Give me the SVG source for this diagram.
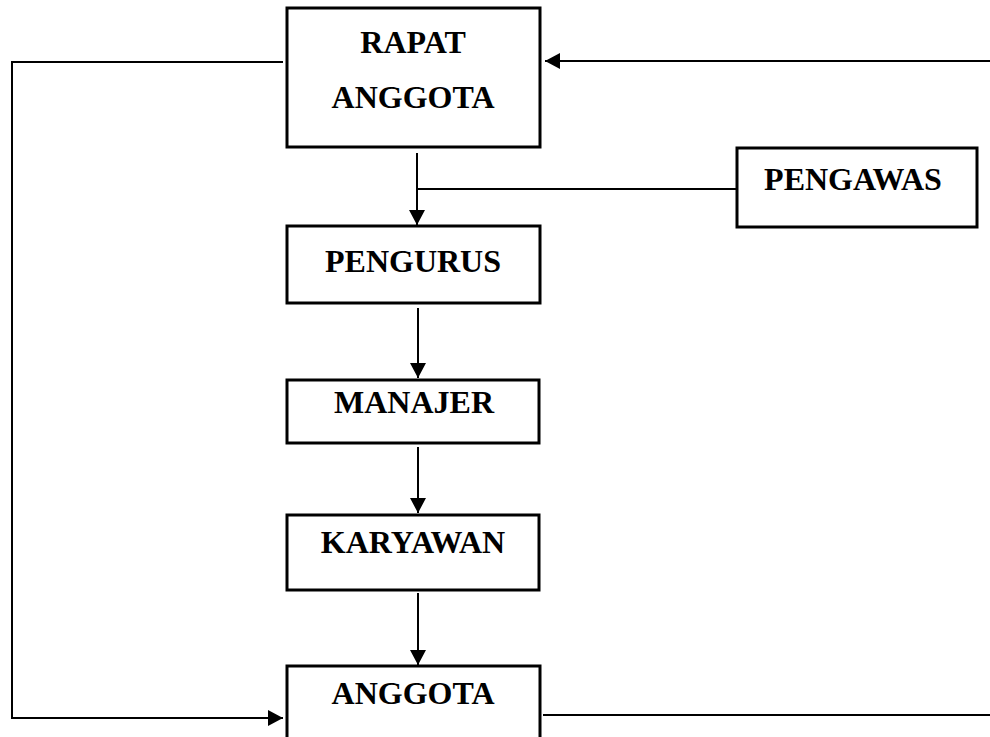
<svg xmlns="http://www.w3.org/2000/svg" width="990" height="737" viewBox="0 0 990 737">
<style>
.box{fill:#fff;stroke:#000;stroke-width:3}
.lbl{font-family:"Liberation Serif","Times New Roman",serif;font-weight:bold;font-size:32px;fill:#000;text-anchor:middle}
.ln{fill:none;stroke:#000;stroke-width:2}
</style>
<defs>
<marker id="ah" markerUnits="userSpaceOnUse" markerWidth="16" markerHeight="16" refX="15" refY="8" orient="auto">
<path d="M0,0 L15,8 L0,16 Z" fill="#000"/>
</marker>
</defs>
<g id="connectors">
<line class="ln" x1="990" y1="61" x2="545" y2="61" marker-end="url(#ah)"/>
<polyline class="ln" points="283,62 12,62 12,718 283,718" marker-end="url(#ah)"/>
<line class="ln" x1="417" y1="153" x2="417" y2="225" marker-end="url(#ah)"/>
<line class="ln" x1="417" y1="189" x2="737" y2="189"/>
<line class="ln" x1="418" y1="308" x2="418" y2="378" marker-end="url(#ah)"/>
<line class="ln" x1="418" y1="447" x2="418" y2="513" marker-end="url(#ah)"/>
<line class="ln" x1="418" y1="593" x2="418" y2="665" marker-end="url(#ah)"/>
<line class="ln" x1="543" y1="715" x2="990" y2="715"/>
</g>
<g id="rapat">
<rect class="box" x="287" y="8" width="253" height="139"/>
<text class="lbl" x="413" y="53">RAPAT</text>
<text class="lbl" x="413" y="108">ANGGOTA</text>
</g>
<g id="pengawas">
<rect class="box" x="737" y="148" width="240" height="79"/>
<text class="lbl" x="853" y="190">PENGAWAS</text>
</g>
<g id="pengurus">
<rect class="box" x="287" y="226" width="253" height="77"/>
<text class="lbl" x="413" y="272">PENGURUS</text>
</g>
<g id="manajer">
<rect class="box" x="287" y="380" width="252" height="63"/>
<text class="lbl" x="414" y="413">MANAJER</text>
</g>
<g id="karyawan">
<rect class="box" x="287" y="515" width="252" height="75"/>
<text class="lbl" x="413" y="553">KARYAWAN</text>
</g>
<g id="anggota">
<rect class="box" x="287" y="666" width="253" height="80"/>
<text class="lbl" x="413" y="704">ANGGOTA</text>
</g>
</svg>
